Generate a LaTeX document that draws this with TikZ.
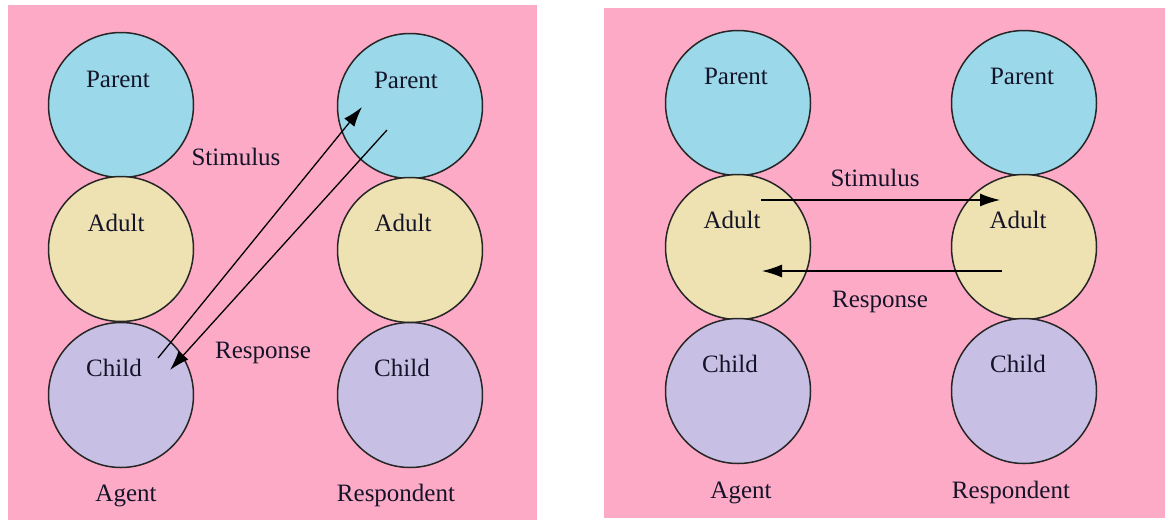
\documentclass[tikz,border=0pt]{standalone}
\usepackage{fontspec}
\setmainfont{Liberation Serif}
\usepackage{tikz}
\usetikzlibrary{calc,arrows.meta}
\definecolor{bgpink}{RGB}{253,170,199}
\definecolor{parentblue}{RGB}{155,216,233}
\definecolor{adultsand}{RGB}{238,226,178}
\definecolor{childlilac}{RGB}{200,192,228}
\definecolor{inkblue}{RGB}{20,20,40}

\begin{document}
\begin{tikzpicture}[x=1pt,y=-1pt,
    ego/.style={circle,draw=black!85,line width=1.5pt,minimum size=145pt,inner sep=0pt},
    tag/.style={anchor=base,inner sep=0pt,text=inkblue,font=\fontsize{25}{30}\selectfont},
    link/.style={line width=1.3pt,-{Latex[length=20pt,width=13pt]}}]
    \useasboundingbox (0,0) rectangle (1165,520);
    \fill[bgpink] (8,5) rectangle (537,520);
    \fill[bgpink] (604,8) rectangle (1165,518);

    % crossed transaction
    \node[ego,fill=parentblue] (aP) at (121,105) {};
    \node[ego,fill=adultsand] (aA) at (121,249) {};
    \node[ego,fill=childlilac] (aC) at (121,395) {};
    \node[ego,fill=parentblue] (rP) at (410,106) {};
    \node[ego,fill=adultsand] (rA) at (410,250) {};
    \node[ego,fill=childlilac] (rC) at (410,395) {};

    \node[tag] (aPt) at ($(aP)+(-3,-18)$) {Parent};
    \node[tag] (aAt) at ($(aA)+(-5,-18)$) {Adult};
    \node[tag] (aCt) at ($(aC)+(-7,-19)$) {Child};
    \node[tag] (rPt) at ($(rP)+(-4,-18)$) {Parent};
    \node[tag] (rAt) at ($(rA)+(-7,-19)$) {Adult};
    \node[tag] (rCt) at ($(rC)+(-8,-19)$) {Child};
    \node[tag] (agL) at (126,501) {Agent};
    \node[tag] (reL) at (396,501) {Respondent};

    \coordinate (s0) at (158,358);
    \coordinate (s1) at (362,107);
    \coordinate (q0) at (387,130);
    \coordinate (q1) at (170,370);
    \draw[link] (s0) -- (s1);
    \draw[link] (q0) -- (q1);
    \node[tag] (stL) at (236,165) {Stimulus};
    \node[tag] (rsL) at (263,358) {Response};

    % complementary transaction
    \node[ego,fill=parentblue] (bP) at (738,103) {};
    \node[ego,fill=adultsand] (bA) at (738,247) {};
    \node[ego,fill=childlilac] (bC) at (738,391) {};
    \node[ego,fill=parentblue] (tP) at (1024,103) {};
    \node[ego,fill=adultsand] (tA) at (1024,247) {};
    \node[ego,fill=childlilac] (tC) at (1024,391) {};

    \node[tag] (bPt) at ($(bP)+(-2,-19)$) {Parent};
    \node[tag] (bAt) at ($(bA)+(-6,-19)$) {Adult};
    \node[tag] (bCt) at ($(bC)+(-8,-19)$) {Child};
    \node[tag] (tPt) at ($(tP)+(-2,-19)$) {Parent};
    \node[tag] (tAt) at ($(tA)+(-6,-19)$) {Adult};
    \node[tag] (tCt) at ($(tC)+(-6,-19)$) {Child};
    \node[tag] (agR) at (741,498) {Agent};
    \node[tag] (reR) at (1011,498) {Respondent};

    \coordinate (u0) at (761,200);
    \coordinate (u1) at (1000,200);
    \coordinate (v0) at (1002,271);
    \coordinate (v1) at (762,271);
    \draw[link] (u0) -- (u1);
    \draw[link] (v0) -- (v1);
    \node[tag] (stR) at (875,186) {Stimulus};
    \node[tag] (rsR) at (880,307) {Response};
\end{tikzpicture}
\end{document}
